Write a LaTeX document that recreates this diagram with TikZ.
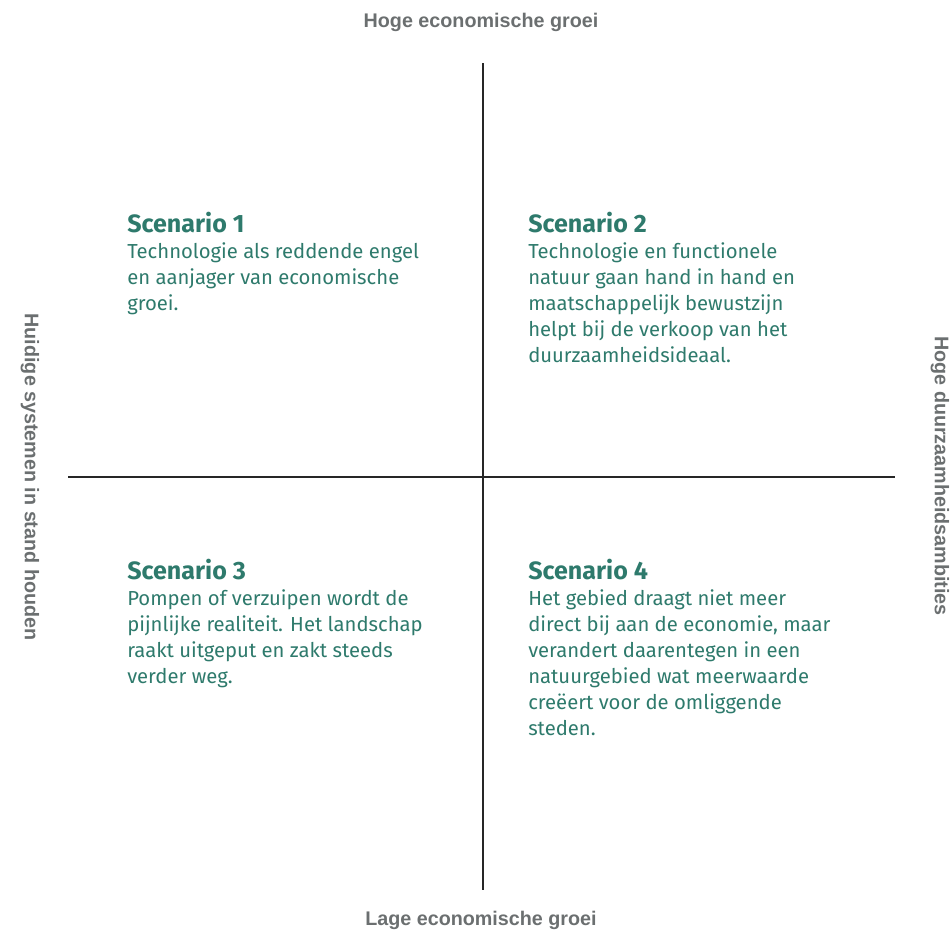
\documentclass[tikz,border=0pt]{standalone}
\usepackage{fontspec}
\setmainfont{Fira Sans}
\newfontfamily\axisfont{Liberation Sans}
\usetikzlibrary{positioning}
\definecolor{scengreen}{HTML}{2E7A6C}
\definecolor{axisgray}{HTML}{6B6F70}
\tikzset{
  axislabel/.style={text=axisgray, font=\axisfont\bfseries\fontsize{14.8}{16}\selectfont, inner sep=0pt},
  scenhead/.style={text=scengreen, font=\bfseries\fontsize{18.8}{20}\selectfont, anchor=north west, inner sep=0pt},
  scenbody/.style={text=scengreen, font=\fontsize{15.2}{19.5}\selectfont, align=left, anchor=north west, inner sep=0pt},
}
\begin{document}
\begin{tikzpicture}[x=0.75pt, y=-0.75pt]
\useasboundingbox (0,0) rectangle (952,933);
% axes
\coordinate (top) at (483,63); \coordinate (bottom) at (483,890);
\coordinate (left) at (68,477); \coordinate (right) at (895,477);
\draw [line width=1.5pt, black!85] (top) -- (bottom);
\draw [line width=1.5pt, black!85] (left) -- (right);
% axis labels
\node [axislabel] (hoog) at (481,22) {Hoge economische groei};
\node [axislabel] (laag) at (481,920) {Lage economische groei};
\node [axislabel, rotate=-90] (huidig) at (30,477) {Huidige systemen in stand houden};
\node [axislabel, rotate=-90] (duurz) at (940,476) {Hoge duurzaamheidsambities};
% scenarios
\node [scenhead] (h1) at (127,212) {Scenario 1};
\node [scenbody, below=6.5pt of h1.south west, anchor=north west] (b1) {Technologie als reddende engel\\en aanjager van economische\\groei.};
\node [scenhead] (h2) at (528,212) {Scenario 2};
\node [scenbody, below=6.5pt of h2.south west, anchor=north west] (b2) {Technologie en functionele\\natuur gaan hand in hand en\\maatschappelijk bewustzijn\\helpt bij de verkoop van het\\duurzaamheidsideaal.};
\node [scenhead] (h3) at (127,559) {Scenario 3};
\node [scenbody, below=6.5pt of h3.south west, anchor=north west] (b3) {Pompen of verzuipen wordt de\\pijnlijke realiteit. Het landschap\\raakt uitgeput en zakt steeds\\verder weg.};
\node [scenhead] (h4) at (528,559) {Scenario 4};
\node [scenbody, below=6.5pt of h4.south west, anchor=north west] (b4) {Het gebied draagt niet meer\\direct bij aan de economie, maar\\verandert daarentegen in een\\natuurgebied wat meerwaarde\\creëert voor de omliggende\\steden.};
\end{tikzpicture}
\end{document}
